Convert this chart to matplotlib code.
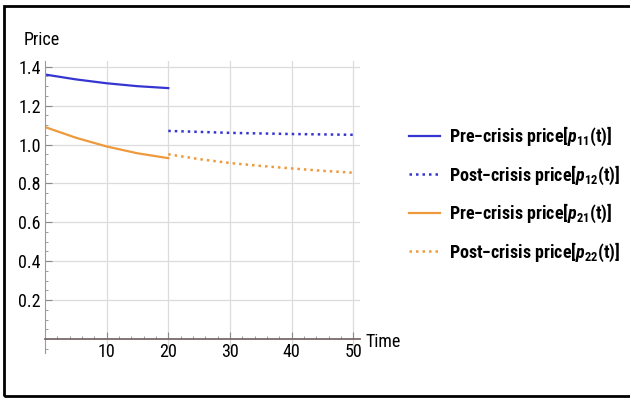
import matplotlib.pyplot as plt
from matplotlib import font_manager
from matplotlib.patches import Rectangle
from matplotlib.ticker import MultipleLocator

# narrow font if there is one, like the Mathematica export
names = set(f.name for f in font_manager.fontManager.ttflist)
narrow = None
for cand in ['Liberation Sans Narrow', 'Roboto Condensed', 'Open Sans Condensed',
             'Noto Sans Condensed', 'DejaVu Sans Condensed', 'Arial Narrow']:
    if cand in names:
        narrow = cand
        break
if narrow is None:
    narrow = 'DejaVu Sans'
    plt.rcParams['font.stretch'] = 'condensed'
plt.rcParams['font.family'] = [narrow, 'DejaVu Sans']
plt.rcParams['mathtext.fontset'] = 'custom'
plt.rcParams['mathtext.it'] = narrow + ':italic:bold'
plt.rcParams['mathtext.rm'] = narrow + ':bold'

t_pre = [0, 5, 10, 15, 20]
p11 = [1.36, 1.335, 1.315, 1.30, 1.29]
p21 = [1.09, 1.035, 0.99, 0.955, 0.93]
t_post = [20, 25, 30, 35, 40, 45, 50]
p12 = [1.07, 1.065, 1.06, 1.057, 1.054, 1.052, 1.05]
p22 = [0.95, 0.925, 0.905, 0.89, 0.877, 0.865, 0.855]

labels = [r'Pre$-$crisis price[$p_{11}$(t)]',
          r'Post$-$crisis price[$p_{12}$(t)]',
          r'Pre$-$crisis price[$p_{21}$(t)]',
          r'Post$-$crisis price[$p_{22}$(t)]']

blue = '#3535d2'
orange = '#ee9a3c'

fig = plt.figure(figsize=(6.3, 3.98), dpi=100)
ax = fig.add_axes([0.0714, 0.114, 0.5, 0.733])

h1, = ax.plot(t_pre, p11, color=blue, lw=1.6)
h2, = ax.plot(t_post, p12, color=blue, lw=1.8, ls=(0, (1, 1.6)))
h3, = ax.plot(t_pre, p21, color=orange, lw=1.6)
h4, = ax.plot(t_post, p22, color=orange, lw=1.8, ls=(0, (1, 1.6)))

ax.set_xlim(0, 51.1)
ax.set_ylim(-0.07, 1.43)
ax.spines['left'].set_position(('data', 0))
ax.spines['bottom'].set_position(('data', 0))
ax.spines['top'].set_visible(False)
ax.spines['right'].set_visible(False)
ax.spines['left'].set_color('#9a9a9a')
ax.spines['bottom'].set_color('#7a6a6a')
ax.spines['bottom'].set_linewidth(1.3)

ax.set_xticks([10, 20, 30, 40, 50])
ax.set_yticks([0.2, 0.4, 0.6, 0.8, 1.0, 1.2, 1.4])
ax.set_yticklabels(['0.2', '0.4', '0.6', '0.8', '1.0', '1.2', '1.4'])
ax.xaxis.set_minor_locator(MultipleLocator(2))
ax.yaxis.set_minor_locator(MultipleLocator(0.05))
ax.tick_params(which='major', direction='in', length=5, color='#8a8a8a', labelsize=13, pad=3)
ax.tick_params(which='minor', direction='in', length=2.5, color='#8a8a8a')
ax.grid(True, color='#dcdcdc', lw=0.9)
ax.set_axisbelow(True)

fig.text(0.037, 0.888, 'Price', fontsize=13)
fig.text(0.58, 0.128, 'Time', fontsize=13)

leg = fig.legend([h1, h2, h3, h4], labels, loc='center left',
                 bbox_to_anchor=(0.624, 0.512), frameon=False,
                 handlelength=1.7, handletextpad=0.5, labelspacing=0.85,
                 prop={'weight': 'bold', 'size': 13})

fig.patches.append(Rectangle((0.006, 0.006), 1.2, 0.98, transform=fig.transFigure,
                             fill=False, edgecolor='black', lw=2))

fig.savefig('out.png', dpi=100)
